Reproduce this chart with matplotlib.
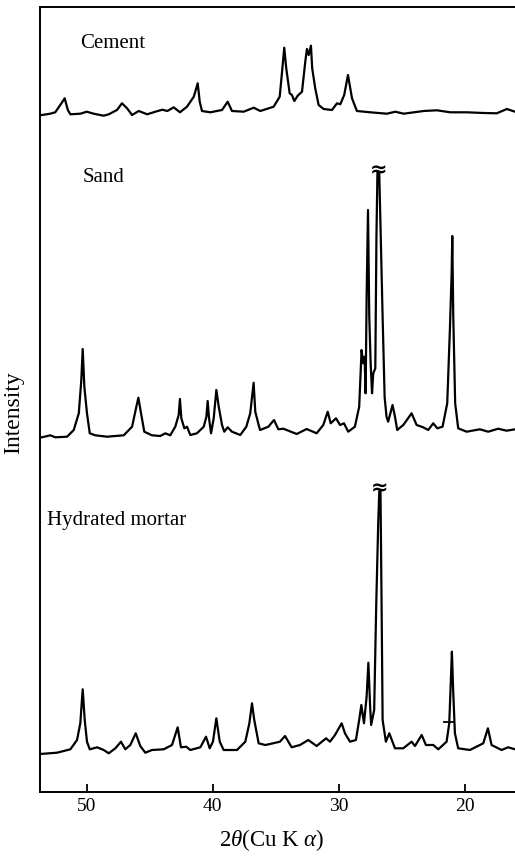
import matplotlib
matplotlib.use("Agg")
import matplotlib.pyplot as plt

plt.rcParams['font.family'] = ['Liberation Serif', 'DejaVu Serif']
plt.rcParams['mathtext.fontset'] = 'custom'
plt.rcParams['mathtext.rm'] = 'Liberation Serif'
plt.rcParams['mathtext.it'] = 'Liberation Serif:italic'

# ---------------- data ----------------
cement_2theta = [53.7, 53.55, 52.9, 52.5, 52.1, 51.75, 51.5, 51.3, 50.5, 50.0, 49.45, 48.65, 48.25,
                 47.6, 47.2, 46.8, 46.4, 45.87, 45.2, 44.55, 44.0, 43.6, 43.1, 42.6, 42.04, 41.5,
                 41.19, 41.03, 40.85, 40.19, 39.26, 38.81, 38.47, 37.54, 36.75, 36.22, 35.16, 34.68,
                 34.42, 34.32, 34.16, 33.89, 33.71, 33.52, 33.25, 32.91, 32.65, 32.52, 32.38, 32.2,
                 32.1, 31.86, 31.59, 31.19, 30.53, 30.13, 29.87, 29.56, 29.26, 28.94, 28.55, 27.49,
                 26.17, 25.5, 24.84, 23.25, 22.2, 21.14, 19.82, 18.49, 17.44, 16.65, 16.0]
cement_intensity = [0, 0, 1.3, 2.7, 10, 16.7, 5, 0.7, 1.3, 3.3, 1.3, -0.7, 0.7,
                    5, 11.7, 6.7, 0, 4, 0.7, 3.3, 5.3, 4, 7.7, 2.7, 8.3, 18.3,
                    31.7, 13.3, 4, 2.7, 5, 13.3, 4, 3.3, 7.3, 4, 8.3, 18.3,
                    53, 67.3, 46.7, 21.7, 20, 14, 19.3, 23.3, 53.3, 66, 60, 69.3,
                    46.7, 26.7, 10, 6, 5, 11.7, 10.7, 20, 40, 16.7, 4, 2.7,
                    1.3, 3.3, 1.3, 4, 4.7, 2.7, 2.7, 2, 1.7, 6, 3.3]

sand_2theta = [53.7, 53.55, 52.89, 52.49, 51.56, 51.03, 50.63, 50.43, 50.32, 50.19, 49.98, 49.76,
               49.32, 48.39, 47.06, 46.4, 46.06, 45.9, 45.69, 45.43, 44.82, 44.16, 43.76, 43.37,
               42.97, 42.7, 42.6, 42.49, 42.25, 42.04, 41.78, 41.25, 40.71, 40.5, 40.4, 40.29,
               40.13, 39.92, 39.71, 39.52, 39.26, 39.08, 38.81, 38.47, 37.81, 37.33, 37.02, 36.75,
               36.62, 36.35, 36.24, 35.58, 35.13, 34.79, 34.39, 33.33, 32.54, 31.75, 31.22, 30.87,
               30.63, 30.21, 29.89, 29.58, 29.24, 28.71, 28.37, 28.18, 28.05, 27.94, 27.86, 27.78,
               27.67, 27.57, 27.46, 27.35, 27.25, 27.09, 27.0, 26.92, 26.78, 26.67, 26.51, 26.35,
               26.2, 26.07, 25.72, 25.53, 25.35, 24.87, 24.21, 23.81, 23.29, 22.89, 22.49, 22.17,
               21.75, 21.38, 21.17, 21.03, 20.98, 20.9, 20.75, 20.51, 19.84, 18.79, 18.13, 17.33,
               16.67, 16.0]
sand_intensity = [-1.3, -1.3, 0.7, -1.3, -0.7, 6, 22.7, 56, 87, 49.3, 22.7, 2.7,
                  0.7, -0.7, 0.7, 9.3, 29.3, 38.3, 22.7, 4.3, 0.7, 0, 2.7, 0.7,
                  9.3, 21, 37, 17.7, 7.7, 9.3, 1, 2.7, 9.3, 19.3, 35, 17.7,
                  2.7, 17.7, 46, 29.3, 11, 4.3, 8.7, 4.3, 1, 9.3, 22.7, 53.3,
                  24.3, 11, 6, 9.3, 16, 6.7, 7.3, 2, 7, 2.7, 11, 24.3,
                  12.7, 17.7, 11, 12.7, 4.3, 9.3, 29.3, 86, 72.7, 79.3, 42.7, 139,
                  226, 119.3, 72.7, 42.7, 62.7, 67.7, 200, 264, 264, 206, 119, 39,
                  19.3, 14.3, 31, 19.3, 6, 11, 22.7, 11, 8.7, 6, 12.7, 7.7,
                  9.3, 32.7, 106, 162.7, 200, 119, 32.7, 7.7, 4.3, 6.7, 4.3, 7.3,
                  5.3, 6.7]

mortar_2theta = [53.7, 52.36, 51.3, 50.77, 50.51, 50.32, 50.16, 49.98, 49.76, 49.18, 48.65, 48.25,
                 47.73, 47.28, 46.94, 46.54, 46.11, 45.75, 45.35, 44.82, 43.89, 43.23, 42.78, 42.52,
                 42.1, 41.78, 40.98, 40.53, 40.24, 39.98, 39.71, 39.44, 39.13, 38.07, 37.41, 37.09,
                 36.88, 36.7, 36.35, 35.83, 35.45, 34.66, 34.26, 33.73, 33.07, 32.41, 31.75, 31.0,
                 30.69, 30.29, 29.76, 29.5, 29.1, 28.63, 28.37, 28.2, 27.99, 27.78, 27.64, 27.5,
                 27.42, 27.18, 27.02, 26.86, 26.77, 26.68, 26.59, 26.51, 26.25, 25.98, 25.53, 24.87,
                 24.21, 23.94, 23.41, 23.07, 22.49, 22.09, 21.43, 21.22, 21.09, 21.01, 20.9, 20.77,
                 20.51, 19.58, 18.52, 18.15, 17.86, 17.07, 16.54, 16.0]
mortar_intensity = [0, 1.3, 4.7, 14, 30.7, 64.7, 34, 12.3, 4.7, 6.7, 4, 0.7,
                    5.7, 12.3, 4.7, 9, 20.7, 8, 1.3, 4, 4.7, 9, 26.7, 6.7,
                    7.3, 4, 6.7, 17.3, 5.7, 12.3, 35.7, 12.3, 4, 4, 12.3, 30.7,
                    50.7, 34, 10.7, 9, 10, 12.3, 18, 6.7, 9, 14, 8, 15.7,
                    12.3, 19, 30.7, 20.7, 12.3, 14, 34, 49, 30.7, 57.3, 91.3, 47.3,
                    29, 44, 147.3, 230.7, 264, 264, 147.3, 34, 12.3, 20.7, 5.7, 5.7,
                    12.3, 8, 19, 9, 9, 4.7, 12.3, 30.7, 74, 102.3, 60.7, 20.7,
                    5.7, 4, 10.7, 25.7, 9, 4, 6.7, 4.7]

trace_labels = ["Cement", "Sand", "Hydrated mortar"]
trace_offsets = [677, 356, 38]
label_2theta = [50.53, 50.3, 53.15]
label_height = [748, 615, 271]
break_2theta = [26.85, 26.72]       # clipped peaks (Sand, Hydrated mortar)
break_level = [266, 266]
mortar_mark_2theta = [21.6, 20.85]
mortar_mark_level = 32
xticks = [50, 40, 30, 20]

# ---------------- figure ----------------
W, H = 515, 856
fig = plt.figure(figsize=(W / 100, H / 100), dpi=100)
ax = fig.add_axes([40 / W, (H - 792) / H, (W - 40) / W, (792 - 7) / H])

series = [(cement_2theta, cement_intensity), (sand_2theta, sand_intensity),
          (mortar_2theta, mortar_intensity)]
for (xs, ys), off, lab, lx, ly in zip(series, trace_offsets, trace_labels, label_2theta, label_height):
    ax.plot(xs, [v + off for v in ys], color='black', lw=1.6, solid_joinstyle='round')
    ax.text(lx, ly, lab, fontsize=15, ha='left', va='center')

for bx, bl, off in zip(break_2theta, break_level, trace_offsets[1:]):
    ax.text(bx, off + bl, '\u2248', fontsize=15, ha='center', va='center',
            family='DejaVu Sans', fontweight='bold')

ax.plot(mortar_mark_2theta, [trace_offsets[2] + mortar_mark_level] * 2, color='black', lw=1.3)

ax.set_xlim(53.71, 16.0)
ax.set_ylim(0, 785)
ax.set_xticks(xticks)
ax.set_xticklabels([str(t) for t in xticks], fontsize=14)
ax.tick_params(axis='x', direction='in', length=6, width=1.3, pad=4)
ax.set_yticks([])
ax.spines['right'].set_visible(False)
for s in ['left', 'bottom', 'top']:
    ax.spines[s].set_linewidth(1.4)

fig.text(14 / W, 1 - 413 / H, 'Intensity', rotation=90, ha='center', va='center', fontsize=17)
fig.text(272 / W, 1 - 840 / H, r'2$\theta$(Cu K $\alpha$)', ha='center', va='center', fontsize=16.5)

fig.savefig('out.png', dpi=100)
